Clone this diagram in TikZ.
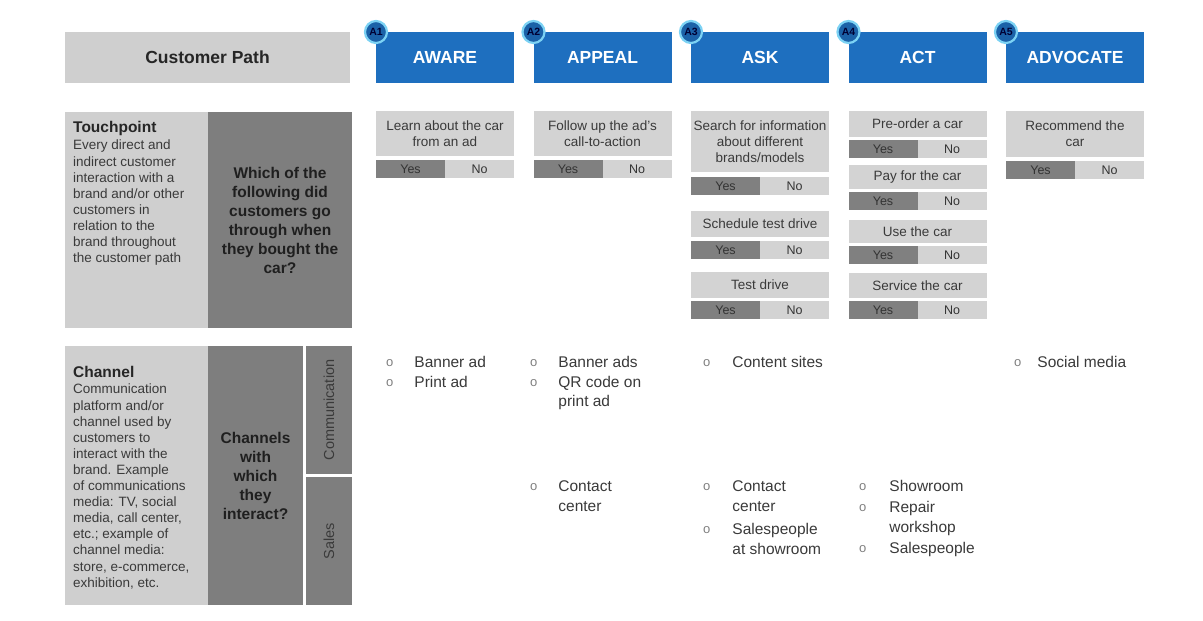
\documentclass[tikz,border=0pt]{standalone}
\usepackage{fontspec}
\setmainfont{Liberation Sans}
\usepackage{tikz}
\usetikzlibrary{positioning}

\definecolor{stageblue}{HTML}{1E6FBF}
\definecolor{badgeblue}{HTML}{1B62A8}
\definecolor{badgering}{HTML}{7CD2F4}
\definecolor{panellight}{HTML}{CFCFCF}
\definecolor{paneldark}{HTML}{7E7E7E}
\definecolor{qgray}{HTML}{D3D3D3}
\definecolor{yesgray}{HTML}{808080}
\definecolor{nogray}{HTML}{D3D3D3}
\definecolor{txtgray}{HTML}{3A3A3A}

\newcommand{\bul}{\textcolor{gray}{\raisebox{1pt}{\fontsize{13}{13}\selectfont o}}}

\tikzstyle{panel} = [rectangle, fill=panellight, inner sep=0pt, outer sep=0pt, anchor=north west]
\tikzstyle{darkpanel} = [rectangle, fill=paneldark, inner sep=0pt, outer sep=0pt, align=center, text=black!88, font=\bfseries\fontsize{15.5}{19}\selectfont]
\tikzstyle{stage} = [rectangle, fill=stageblue, text=white, minimum width=138pt, minimum height=51pt, inner sep=0pt, outer sep=0pt, font=\bfseries\fontsize{17.5}{20}\selectfont]
\tikzstyle{badge} = [circle, fill=badgeblue, draw=badgering, line width=2.2pt, minimum size=22pt, inner sep=0pt, text=black!80!blue, font=\bfseries\fontsize{10.5}{10.5}\selectfont]
\tikzstyle{question} = [rectangle, fill=qgray, minimum width=138pt, inner sep=0pt, outer sep=0pt, align=center, text=txtgray, font=\fontsize{13.5}{16}\selectfont]
\tikzstyle{yesbox} = [rectangle, fill=yesgray, minimum width=69pt, minimum height=18pt, inner sep=0pt, outer sep=0pt, text=black!80, font=\fontsize{12.5}{14}\selectfont]
\tikzstyle{nobox} = [yesbox, fill=nogray]
\tikzstyle{desc} = [align=left, anchor=north west, inner sep=0pt, text=txtgray, font=\fontsize{13.5}{16.1}\selectfont]
\tikzstyle{chlist} = [anchor=base west, inner sep=0pt, text=txtgray, font=\fontsize{15.5}{19.5}\selectfont]

\begin{document}
\begin{tikzpicture}[x=1pt, y=-1pt]
  \useasboundingbox (0,0) rectangle (1203,621);
  \fill[white] (0,0) rectangle (1203,621);

  % left side
  \node[panel, minimum width=285pt, minimum height=51pt, text=black!85, font=\bfseries\fontsize{17.5}{20}\selectfont] (path) at (65,32) {Customer Path};
  \node[panel, minimum width=143pt, minimum height=216pt] (tpinfo) at (65,112) {};
  \node[darkpanel, minimum width=144pt, minimum height=216pt, right=0pt of tpinfo] (tpask) {Which of the\\following did\\customers go\\through when\\they bought the\\car?};
  \node[desc, text=black!85, font=\bfseries\fontsize{15.5}{18}\selectfont] (tptitle) at (73,121) {Touchpoint};
  \node[desc] (tptext) at (73,140) {Every direct and\\indirect customer\\interaction with a\\brand and/or other\\customers in\\relation to the\\brand throughout\\the customer path};

  \node[panel, minimum width=143pt, minimum height=259pt] (chinfo) at (65,346) {};
  \node[darkpanel, minimum width=95pt, minimum height=259pt, right=0pt of chinfo] (chask) {Channels\\with\\which\\they\\interact?};
  \node[darkpanel, rotate=90, minimum width=128pt, minimum height=46pt, text=txtgray, font=\fontsize{14.5}{17}\selectfont] (comm) at (329,410) {Communication};
  \node[darkpanel, rotate=90, minimum width=128pt, minimum height=46pt, text=txtgray, font=\fontsize{14.5}{17}\selectfont] (sales) at (329,541) {Sales};
  \node[desc, text=black!85, font=\bfseries\fontsize{15.5}{18}\selectfont] (chtitle) at (73,366) {Channel};
  \node[desc] (chtext) at (73,384) {Communication\\platform and/or\\channel used by\\customers to\\interact with the\\brand. Example\\of communications\\media: TV, social\\media, call center,\\etc.; example of\\channel media:\\store, e-commerce,\\exhibition, etc.};

  % stages
  \node[stage, anchor=north west] (aware) at (376,32) {AWARE};
  \node[stage, right=19.5pt of aware] (appeal) {APPEAL};
  \node[stage, right=19.5pt of appeal] (ask) {ASK};
  \node[stage, right=19.5pt of ask] (act) {ACT};
  \node[stage, right=19.5pt of act] (advocate) {ADVOCATE};
  \node[badge] (b1) at (aware.north west) {A1};
  \node[badge] (b2) at (appeal.north west) {A2};
  \node[badge] (b3) at (ask.north west) {A3};
  \node[badge] (b4) at (act.north west) {A4};
  \node[badge] (b5) at (advocate.north west) {A5};

  % touchpoints
  \node[question, minimum height=45pt, below=28pt of aware] (q1) {Learn about the car\\from an ad};
  \node[yesbox, below right=4pt and 0pt of q1.south west] (q1y) {Yes};
  \node[nobox, right=0pt of q1y] (q1n) {No};

  \node[question, minimum height=45pt, below=28pt of appeal] (q2) {Follow up the ad's\\call-to-action};
  \node[yesbox, below right=4pt and 0pt of q2.south west] (q2y) {Yes};
  \node[nobox, right=0pt of q2y] (q2n) {No};

  \node[question, minimum height=61pt, below=28pt of ask] (q3a) {Search for information\\about different\\brands/models};
  \node[yesbox, below right=5pt and 0pt of q3a.south west] (q3ay) {Yes};
  \node[nobox, right=0pt of q3ay] (q3an) {No};
  \node[question, minimum height=26pt, below right=16pt and 0pt of q3ay.south west] (q3b) {Schedule test drive};
  \node[yesbox, below right=4pt and 0pt of q3b.south west] (q3by) {Yes};
  \node[nobox, right=0pt of q3by] (q3bn) {No};
  \node[question, minimum height=26pt, below right=13pt and 0pt of q3by.south west] (q3c) {Test drive};
  \node[yesbox, below right=3pt and 0pt of q3c.south west] (q3cy) {Yes};
  \node[nobox, right=0pt of q3cy] (q3cn) {No};

  \node[question, minimum height=26pt, below=28pt of act] (q4a) {Pre-order a car};
  \node[yesbox, below right=3pt and 0pt of q4a.south west] (q4ay) {Yes};
  \node[nobox, right=0pt of q4ay] (q4an) {No};
  \node[question, minimum height=24pt, below right=7pt and 0pt of q4ay.south west] (q4b) {Pay for the car};
  \node[yesbox, below right=3pt and 0pt of q4b.south west] (q4by) {Yes};
  \node[nobox, right=0pt of q4by] (q4bn) {No};
  \node[question, minimum height=23pt, below right=10pt and 0pt of q4by.south west] (q4c) {Use the car};
  \node[yesbox, below right=3pt and 0pt of q4c.south west] (q4cy) {Yes};
  \node[nobox, right=0pt of q4cy] (q4cn) {No};
  \node[question, minimum height=25pt, below right=9pt and 0pt of q4cy.south west] (q4d) {Service the car};
  \node[yesbox, below right=3pt and 0pt of q4d.south west] (q4dy) {Yes};
  \node[nobox, right=0pt of q4dy] (q4dn) {No};

  \node[question, minimum height=46pt, below=28pt of advocate] (q5) {Recommend the\\car};
  \node[yesbox, below right=4pt and 0pt of q5.south west] (q5y) {Yes};
  \node[nobox, right=0pt of q5y] (q5n) {No};

  % channels
  \node[chlist] (l1c) at (386,367.5) {\begin{tabular}[t]{@{}c@{\hspace{21pt}}l@{}}\bul & Banner ad\\ \bul & Print ad\end{tabular}};
  \node[chlist] (l2c) at (530,367.5) {\begin{tabular}[t]{@{}c@{\hspace{21pt}}l@{}}\bul & Banner ads\\ \bul & QR code on\\ & print ad\end{tabular}};
  \node[chlist] (l2s) at (530,491.5) {\begin{tabular}[t]{@{}c@{\hspace{21pt}}l@{}}\bul & Contact\\ & center\end{tabular}};
  \node[chlist] (l3c) at (703,367.5) {\begin{tabular}[t]{@{}c@{\hspace{22pt}}l@{}}\bul & Content sites\end{tabular}};
  \node[chlist] (l3s) at (703,491.5) {\begin{tabular}[t]{@{}c@{\hspace{22pt}}l@{}}\bul & Contact\\ & center\\[4pt] \bul & Salespeople\\ & at showroom\end{tabular}};
  \node[chlist] (l4s) at (859,491.5) {\begin{tabular}[t]{@{}c@{\hspace{23pt}}l@{}}\bul & Showroom\\[1.5pt] \bul & Repair\\ & workshop\\[1.5pt] \bul & Salespeople\end{tabular}};
  \node[chlist] (l5c) at (1014,367.5) {\begin{tabular}[t]{@{}c@{\hspace{16pt}}l@{}}\bul & Social media\end{tabular}};
\end{tikzpicture}
\end{document}
